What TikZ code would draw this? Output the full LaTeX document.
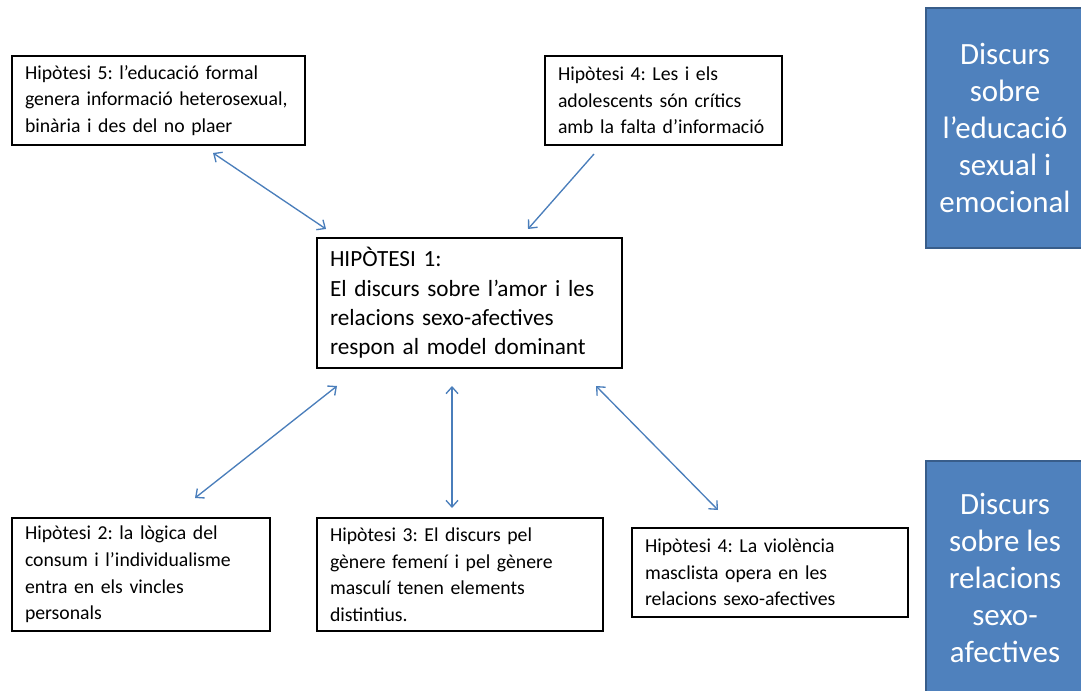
\documentclass[tikz,border=0pt]{standalone}
\usepackage{fontspec}
\setmainfont{Carlito}
\usetikzlibrary{arrows.meta}
\definecolor{linkblue}{RGB}{74,126,187}
\definecolor{discursfill}{RGB}{79,129,189}
\definecolor{discursdraw}{RGB}{56,93,138}
\tikzset{
  barb/.tip={Straight Barb[length=5pt,width=9pt]},
}
\frenchspacing
\begin{document}
\begin{tikzpicture}[x=0.75pt,y=0.75pt,yscale=-1,xscale=1,
  hipbox/.style={draw=black, line width=1.5pt, align=left, inner xsep=9.75pt, inner ysep=0pt,
    font=\fontsize{14.8}{19.9}\selectfont},
  mainbox/.style={hipbox, font=\fontsize{17.4}{22}\selectfont},
  discurs/.style={draw=discursdraw, fill=discursfill, line width=1.5pt, text=white, align=center,
    minimum width=118.5pt, font=\fontsize{23.2}{27.75}\selectfont},
  link/.style={draw=linkblue, line width=1pt, barb-barb},
  oneway/.style={draw=linkblue, line width=1pt, -barb}]
\useasboundingbox (0,0) rectangle (1081,691);

% Shape: Discurs boxes
\draw (1005,128) node (discursone) [discurs, minimum height=180pt] {Discurs\\sobre\\l’educació\\sexual i\\emocional};
\draw (1005,577.5) node (discurstwo) [discurs, minimum height=174.75pt] {Discurs\\sobre les\\relacions\\sexo-\\afectives};

% Text Nodes: hipòtesis
\draw (158.5,100.5) node (hipfive) [hipbox, text width=200.25pt, minimum height=66.75pt] {Hipòtesi 5: l’educació formal\\genera informació heterosexual,\\binària i des del no plaer};
\draw (663.5,100.5) node (hipfourtop) [hipbox, text width=158.25pt, minimum height=66.75pt] {Hipòtesi 4: Les i els\\adolescents són crítics\\amb la falta d’informació};
\draw (469.5,303) node (hipone) [mainbox, text width=209.25pt, minimum height=97.5pt] {HIPÒTESI 1:\\El discurs sobre l’amor i les\\relacions sexo-afectives\\respon al model dominant};
\draw (141,574.5) node (hiptwo) [hipbox, text width=174pt, minimum height=84.75pt] {Hipòtesi 2: la lògica del\\consum i l’individualisme\\entra en els vincles\\personals};
\draw (460,574.5) node (hipthree) [hipbox, text width=195pt, minimum height=84.75pt] {Hipòtesi 3: El discurs pel\\gènere femení i pel gènere\\masculí tenen elements\\distintius.};
\draw (770,572.5) node (hipfourbot) [hipbox, text width=187.5pt, minimum height=66.75pt] {Hipòtesi 4: La violència\\masclista opera en les\\relacions sexo-afectives};

% Arrow ends
\coordinate (fiveend) at (213,153);
\coordinate (fiveone) at (326,229);
\coordinate (fourend) at (594,154);
\coordinate (fourone) at (528,229);
\coordinate (twoone) at (337,386);
\coordinate (twoend) at (195,498);
\coordinate (threeone) at (452,386);
\coordinate (threeend) at (452,508);
\coordinate (fourbotone) at (596,386);
\coordinate (fourbotend) at (718,510);

% Straight Lines
\draw [link] (fiveend) -- (fiveone);
\draw [oneway] (fourend) -- (fourone);
\draw [link] (twoone) -- (twoend);
\draw [link] (threeone) -- (threeend);
\draw [link] (fourbotone) -- (fourbotend);

\end{tikzpicture}
\end{document}
